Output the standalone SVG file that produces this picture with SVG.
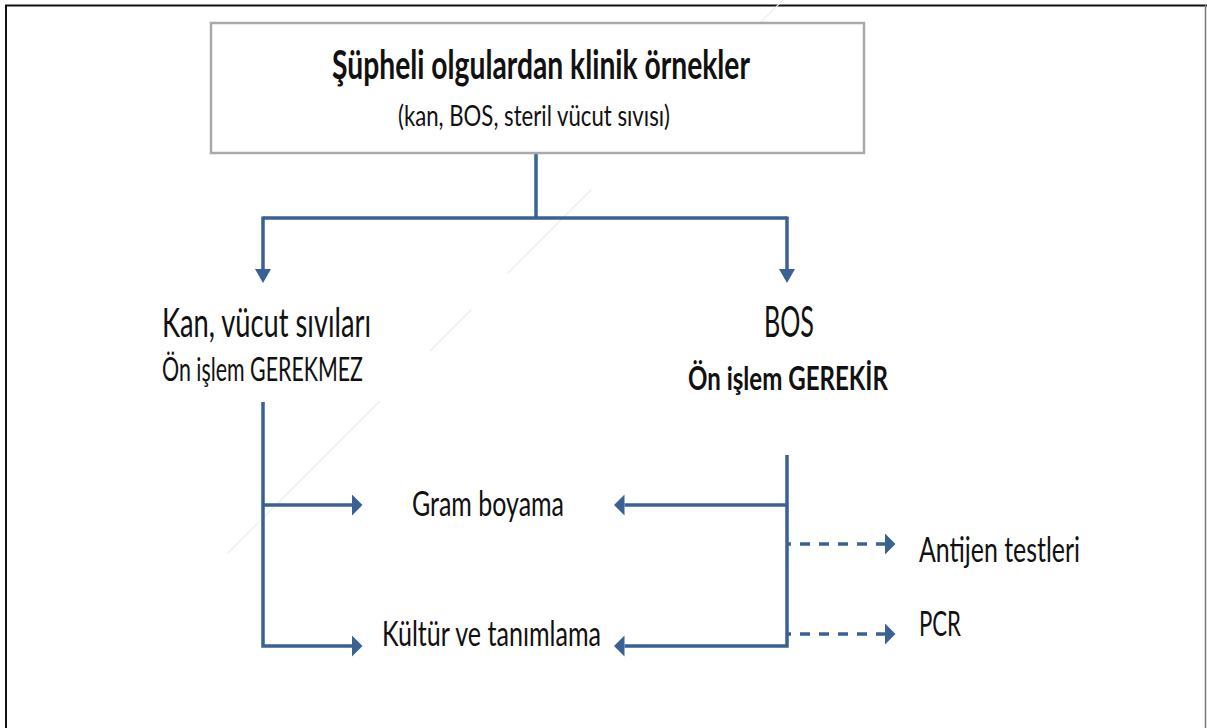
<svg xmlns="http://www.w3.org/2000/svg" width="1207" height="728" viewBox="0 0 1207 728">
  <style>
    text { font-family: Lato, "Open Sans", "Liberation Sans", sans-serif; fill: #111; }
    .b { font-weight: bold; }
    .con { fill: none; stroke: #3a6194; stroke-width: 3.5; }
    .dash { stroke-dasharray: 10 9; stroke-dashoffset: 6; }
    .box { fill: #fff; stroke: #a9a9a9; stroke-width: 2.5; }
    .artifact { stroke: #ececec; stroke-width: 1.2; fill: none; }
  </style>
  <defs>
    <marker id="arrH" markerUnits="userSpaceOnUse" markerWidth="11" markerHeight="22" refX="0" refY="10.5" orient="auto">
      <path d="M0,0 L10.5,10.5 L0,21 Z" fill="#3a6194"/>
    </marker>
    <marker id="arrV" markerUnits="userSpaceOnUse" markerWidth="15" markerHeight="17" refX="0" refY="8" orient="auto">
      <path d="M0,0 L14,8 L0,16 Z" fill="#3a6194"/>
    </marker>
  </defs>
  <rect width="1207" height="728" fill="#fff"/>
  <!-- frame -->
  <line x1="5" y1="5.5" x2="1207" y2="5.5" stroke="#111" stroke-width="2"/>
  <line x1="6" y1="5" x2="6" y2="728" stroke="#111" stroke-width="2"/>
  <line x1="1205.5" y1="5" x2="1205.5" y2="728" stroke="#777" stroke-width="1.5"/>
  <!-- faint diagonal artifact -->
  <g class="artifact">
    <line x1="783" y1="0" x2="760" y2="23"/>
    <line x1="591" y1="190" x2="508" y2="273"/>
    <line x1="471" y1="310" x2="430" y2="351"/>
    <line x1="380" y1="401" x2="228" y2="553"/>
  </g>

  <g id="connectors">
    <path class="con" d="M536,153 V218"/>
    <path class="con" d="M263,218 H787"/>
    <path class="con" d="M263,216.5 V269" marker-end="url(#arrV)"/>
    <path class="con" d="M787,216.5 V269" marker-end="url(#arrV)"/>
    <path class="con" d="M263,402 V646 H352" marker-end="url(#arrH)"/>
    <path class="con" d="M263,505 H352" marker-end="url(#arrH)"/>
    <path class="con" d="M787,455 V646 H624.5" marker-end="url(#arrH)"/>
    <path class="con" d="M787,505 H624.5" marker-end="url(#arrH)"/>
    <path class="con dash" d="M787,544 H885" marker-end="url(#arrH)"/>
    <path class="con dash" d="M787,634 H885" marker-end="url(#arrH)"/>
  </g>

  <g id="node-samples">
    <rect class="box" x="211" y="23" width="653" height="130"/>
    <text class="b" x="332" y="79" font-size="40" textLength="418" lengthAdjust="spacingAndGlyphs">Şüpheli olgulardan klinik örnekler</text>
    <text x="398" y="126" font-size="28" textLength="272" lengthAdjust="spacingAndGlyphs">(kan, BOS, steril vücut sıvısı)</text>
  </g>

  <g id="node-kan">
    <text x="162" y="337" font-size="41" textLength="209" lengthAdjust="spacingAndGlyphs">Kan, vücut sıvıları</text>
    <text x="162" y="381" font-size="32" textLength="201" lengthAdjust="spacingAndGlyphs">Ön işlem GEREKMEZ</text>
  </g>

  <g id="node-bos">
    <text x="764" y="337" font-size="42" textLength="50" lengthAdjust="spacingAndGlyphs">BOS</text>
    <text class="b" x="688" y="390" font-size="33" textLength="200" lengthAdjust="spacingAndGlyphs">Ön işlem GEREKİR</text>
  </g>

  <g id="node-gram">
    <text x="412" y="516" font-size="34" textLength="152" lengthAdjust="spacingAndGlyphs">Gram boyama</text>
  </g>

  <g id="node-kultur">
    <text x="382" y="646" font-size="34" textLength="219" lengthAdjust="spacingAndGlyphs">Kültür ve tanımlama</text>
  </g>

  <g id="node-antijen">
    <text x="919" y="562" font-size="34" textLength="161" lengthAdjust="spacingAndGlyphs">Antijen testleri</text>
  </g>

  <g id="node-pcr">
    <text x="919" y="636" font-size="34" textLength="42" lengthAdjust="spacingAndGlyphs">PCR</text>
  </g>
</svg>
